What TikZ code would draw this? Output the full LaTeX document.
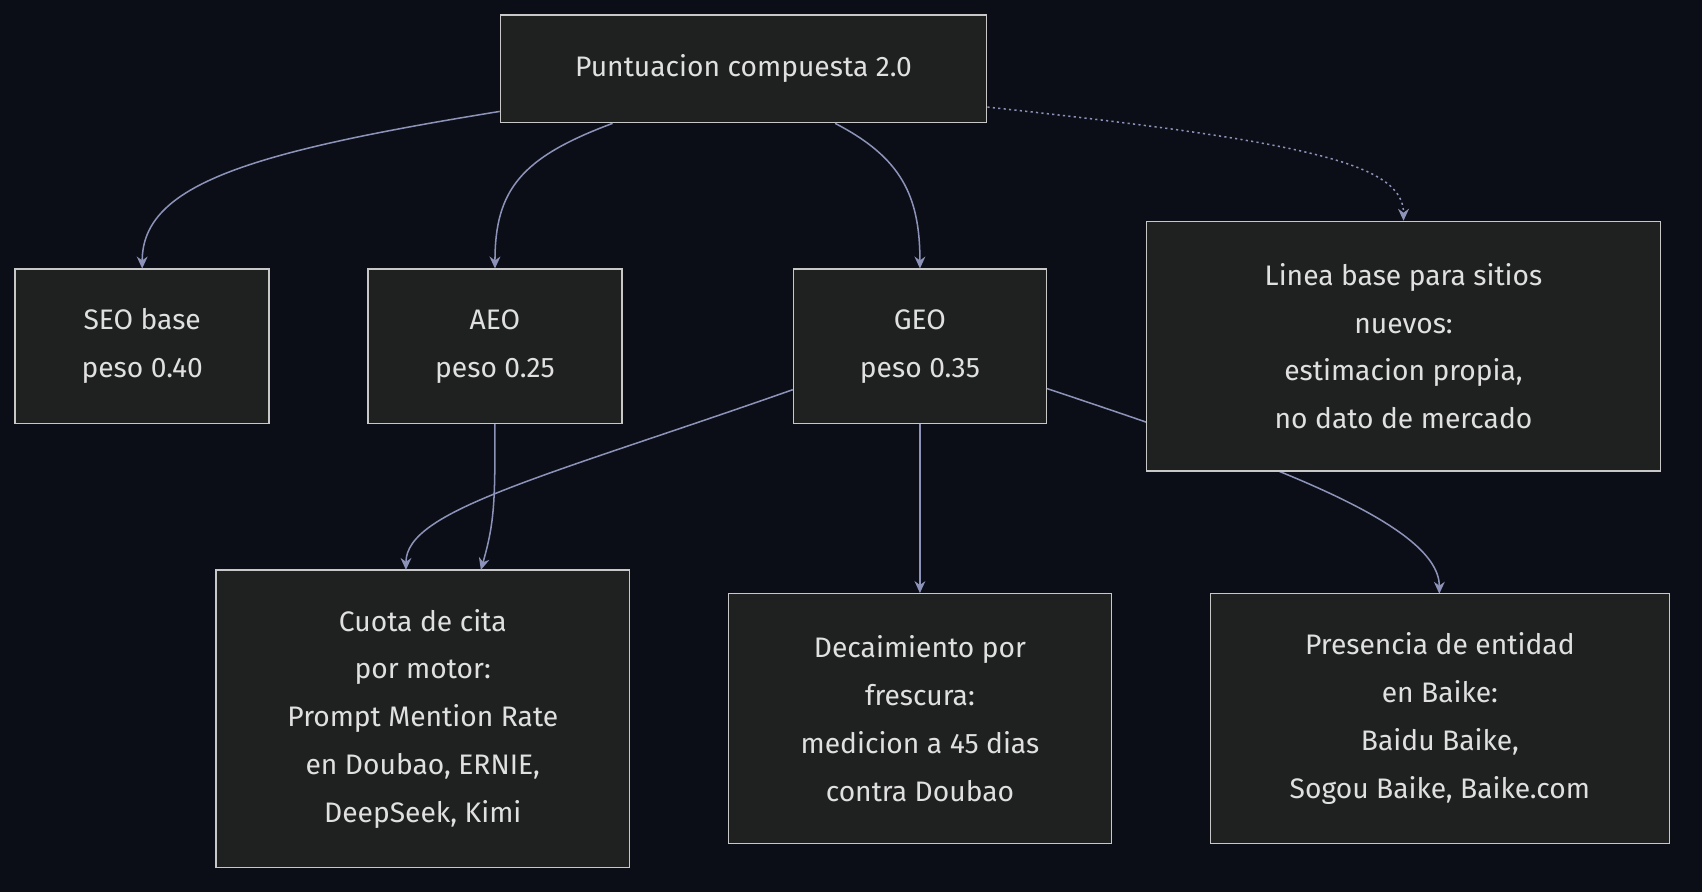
\documentclass[tikz,border=0pt]{standalone}
\usepackage{fontspec}
\setmainfont{Fira Sans}
\usetikzlibrary{arrows.meta,calc}
\definecolor{bg}{HTML}{0B0E17}
\definecolor{nfill}{HTML}{1F2020}
\definecolor{nborder}{HTML}{C8C8C8}
\definecolor{edge}{HTML}{8C92B8}
\definecolor{txt}{HTML}{E0E0E0}
\begin{document}
\begin{tikzpicture}[x=1pt,y=-1pt,
  box/.style={draw=nborder,fill=nfill,line width=1.3pt,text=txt,align=center,
    font=\fontsize{26}{44}\selectfont,inner sep=0pt},
  link/.style={draw=edge,line width=1.4pt,-{Stealth[length=11pt,width=10pt]}},
  dots/.style={link,dash pattern=on 2pt off 3pt}]
\fill[bg] (0,0) rectangle (1568,822);
\useasboundingbox (0,0) rectangle (1568,822);
\node[box,minimum width=448pt,minimum height=99pt] (top) at (685,63.5) {Puntuacion compuesta 2.0};
\node[box,minimum width=234pt,minimum height=142pt] (seo) at (131,319) {SEO base\\peso 0.40};
\node[box,minimum width=234pt,minimum height=142pt] (aeo) at (456,319) {AEO\\peso 0.25};
\node[box,minimum width=233pt,minimum height=142pt] (geo) at (847.5,319) {GEO\\peso 0.35};
\begin{scope}[on background layer/.style={}]
\end{scope}
% edges drawn first where nodes must cover them
\coordinate (t1) at ($(top.south west)+(0,-11)$);
\coordinate (t2) at ($(top.south west)+(104,0)$);
\coordinate (t3) at ($(top.south west)+(309,0)$);
\coordinate (t4) at ($(top.south east)+(0,-15)$);
\coordinate (g1) at ($(geo.west)+(0,40)$);
\coordinate (g2) at ($(geo.east)+(0,39)$);
\coordinate (c1) at (374,525);
\coordinate (c2) at (443,525);
\coordinate (p1) at (1326,547);
\draw[link] (g2) .. controls (1150,420) and (1326,480) .. (p1);
\node[box,minimum width=474pt,minimum height=230pt] (lin) at (1293,319) {Linea base para sitios\\nuevos:\\estimacion propia,\\no dato de mercado};
\node[box,minimum width=381pt,minimum height=274pt] (cuo) at (389.5,662) {Cuota de cita\\por motor:\\Prompt Mention Rate\\en Doubao, ERNIE,\\DeepSeek, Kimi};
\node[box,minimum width=353pt,minimum height=230pt] (dec) at (847.5,662) {Decaimiento por\\frescura:\\medicion a 45 dias\\contra Doubao};
\node[box,minimum width=423pt,minimum height=230pt] (pre) at (1326.5,662) {Presencia de entidad\\en Baike:\\Baidu Baike,\\Sogou Baike, Baike.com};
\draw[link] (t1) .. controls (230,140) and (131,170) .. (seo.north);
\draw[link] (t2) .. controls (480,145) and (456,175) .. (aeo.north);
\draw[link] (t3) .. controls (830,145) and (847.5,180) .. (geo.north);
\draw[dots] (t4) .. controls (1200,130) and (1293,150) .. (lin.north);
\draw[link] (aeo.south) .. controls (456,460) and (456,480) .. (c2);
\draw[link] (g1) .. controls (500,440) and (374,470) .. (c1);
\draw[link] (geo.south) -- (dec.north);
\end{tikzpicture}
\end{document}
